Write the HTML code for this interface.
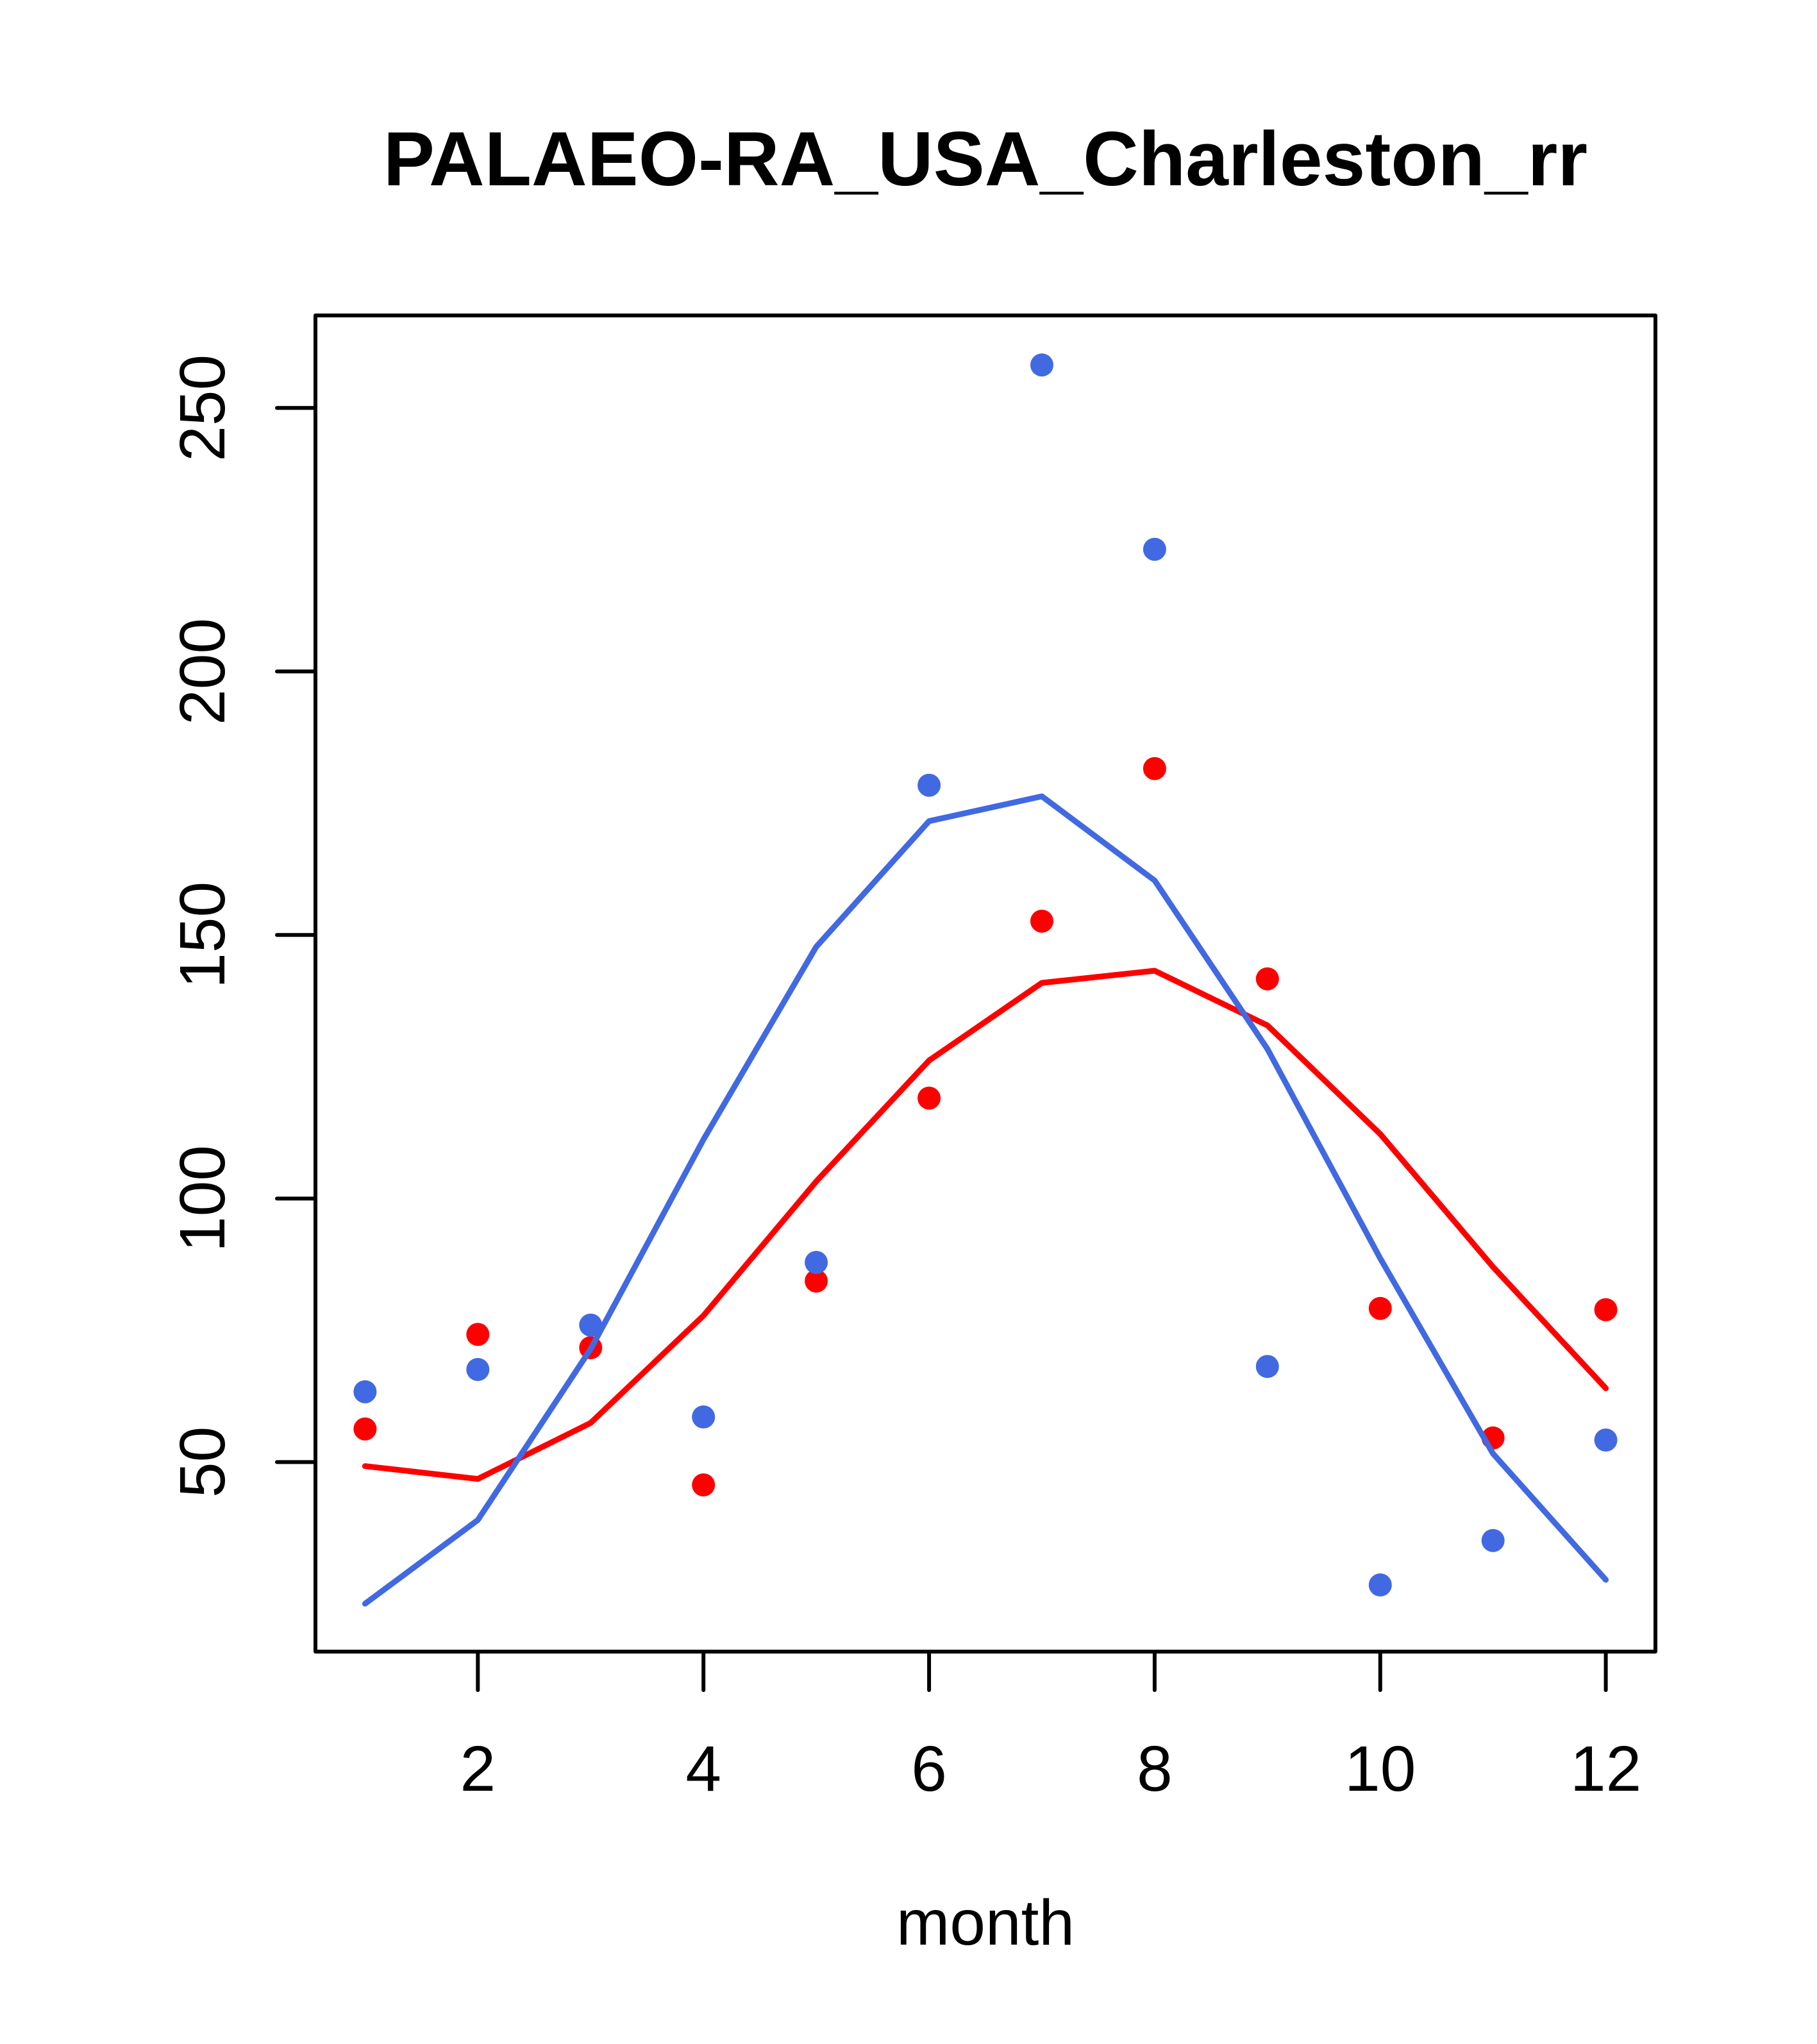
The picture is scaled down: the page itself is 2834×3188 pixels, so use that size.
<!DOCTYPE html>
<html>
<head>
<meta charset="utf-8">
<style>
  html, body { margin: 0; padding: 0; background: #ffffff; }
  svg { display: block; }
  text { font-family: "Liberation Sans", Arial, Helvetica, sans-serif; fill: #000; }
</style>
</head>
<body>
<svg width="2834" height="3188" viewBox="0 0 2834 3188" xmlns="http://www.w3.org/2000/svg">
  <rect x="0" y="0" width="2834" height="3188" fill="#ffffff"/>

  <!-- Title -->
  <text x="1537" y="289" font-size="120" font-weight="bold" text-anchor="middle">PALAEO-RA_USA_Charleston_rr</text>

  <!-- Red points -->
  <g fill="#FF0000">
    <circle cx="569.4" cy="2228.7" r="18"/>
    <circle cx="745.3" cy="2081.3" r="18"/>
    <circle cx="921.3" cy="2102" r="18"/>
    <circle cx="1097.2" cy="2316" r="18"/>
    <circle cx="1273.1" cy="1998" r="18"/>
    <circle cx="1449.1" cy="1712.7" r="18"/>
    <circle cx="1625.0" cy="1436.7" r="18"/>
    <circle cx="1800.9" cy="1198.7" r="18"/>
    <circle cx="1976.8" cy="1526.7" r="18"/>
    <circle cx="2152.8" cy="2040.7" r="18"/>
    <circle cx="2328.7" cy="2242.7" r="18"/>
    <circle cx="2504.6" cy="2042.7" r="18"/>
  </g>

  <!-- Red line -->
  <polyline fill="none" stroke="#FF0000" stroke-width="9" stroke-linecap="round" stroke-linejoin="round"
    points="569.4,2286.7 745.3,2306.7 921.3,2219.3 1097.2,2052 1273.1,1842.7 1449.1,1654 1625.0,1533 1800.9,1514 1976.8,1599.3 2152.8,1768.7 2328.7,1976 2504.6,2165.3"/>

  <!-- Blue points -->
  <g fill="#4169E1">
    <circle cx="569.4" cy="2170.7" r="18"/>
    <circle cx="745.3" cy="2136" r="18"/>
    <circle cx="921.3" cy="2066.7" r="18"/>
    <circle cx="1097.2" cy="2210" r="18"/>
    <circle cx="1273.1" cy="1969" r="18"/>
    <circle cx="1449.1" cy="1224.7" r="18"/>
    <circle cx="1625.0" cy="569.3" r="18"/>
    <circle cx="1800.9" cy="856.7" r="18"/>
    <circle cx="1976.8" cy="2131.3" r="18"/>
    <circle cx="2152.8" cy="2472" r="18"/>
    <circle cx="2328.7" cy="2402.7" r="18"/>
    <circle cx="2504.6" cy="2246" r="18"/>
  </g>

  <!-- Blue line -->
  <polyline fill="none" stroke="#4169E1" stroke-width="9" stroke-linecap="round" stroke-linejoin="round"
    points="569.4,2501.3 745.3,2370.7 921.3,2104 1097.2,1777.3 1273.1,1476.7 1449.1,1280.7 1625.0,1242 1800.9,1373.3 1976.8,1636 2152.8,1962.7 2328.7,2267.3 2504.6,2464"/>

  <!-- Plot box -->
  <rect x="492" y="492" width="2090" height="2084" fill="none" stroke="#000" stroke-width="6" stroke-linejoin="round"/>

  <!-- X axis ticks -->
  <g stroke="#000" stroke-width="6" stroke-linecap="round">
    <line x1="745.3" y1="2576" x2="745.3" y2="2636"/>
    <line x1="1097.2" y1="2576" x2="1097.2" y2="2636"/>
    <line x1="1449.1" y1="2576" x2="1449.1" y2="2636"/>
    <line x1="1800.9" y1="2576" x2="1800.9" y2="2636"/>
    <line x1="2152.8" y1="2576" x2="2152.8" y2="2636"/>
    <line x1="2504.6" y1="2576" x2="2504.6" y2="2636"/>
  </g>
  <g font-size="100" text-anchor="middle">
    <text x="745.3" y="2793">2</text>
    <text x="1097.2" y="2793">4</text>
    <text x="1449.1" y="2793">6</text>
    <text x="1800.9" y="2793">8</text>
    <text x="2152.8" y="2793">10</text>
    <text x="2504.6" y="2793">12</text>
  </g>

  <!-- Y axis ticks -->
  <g stroke="#000" stroke-width="6" stroke-linecap="round">
    <line x1="492" y1="2280.4" x2="432" y2="2280.4"/>
    <line x1="492" y1="1869.4" x2="432" y2="1869.4"/>
    <line x1="492" y1="1458.3" x2="432" y2="1458.3"/>
    <line x1="492" y1="1047.3" x2="432" y2="1047.3"/>
    <line x1="492" y1="636.3" x2="432" y2="636.3"/>
  </g>
  <g font-size="100" text-anchor="middle">
    <text transform="translate(350,2280.4) rotate(-90)">50</text>
    <text transform="translate(350,1869.4) rotate(-90)">100</text>
    <text transform="translate(350,1458.3) rotate(-90)">150</text>
    <text transform="translate(350,1047.3) rotate(-90)">200</text>
    <text transform="translate(350,636.3) rotate(-90)">250</text>
  </g>

  <!-- X axis label -->
  <text x="1537" y="3033" font-size="100" text-anchor="middle">month</text>
</svg>
</body>
</html>
